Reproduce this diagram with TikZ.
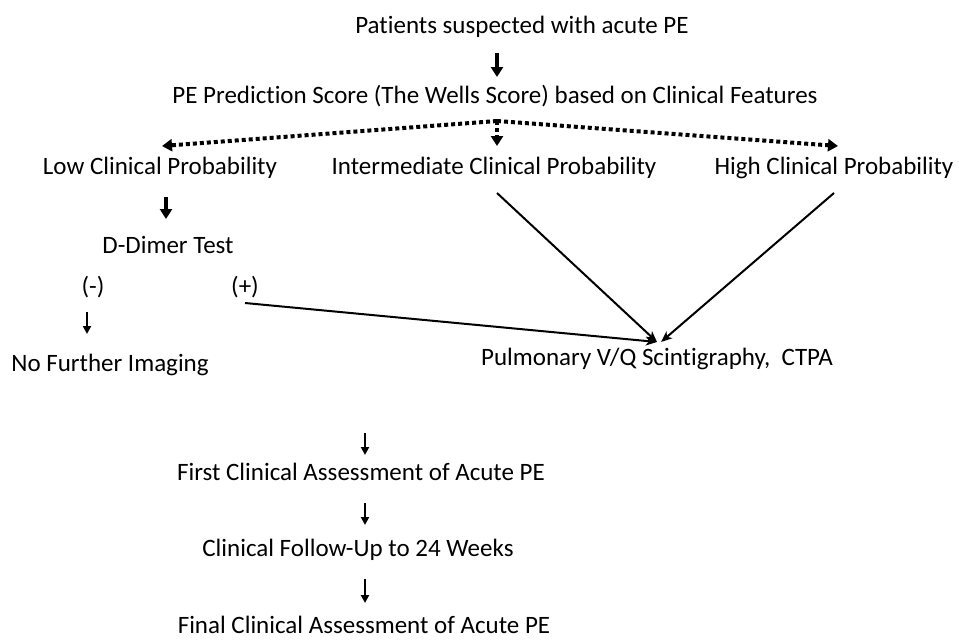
\documentclass[tikz,border=0pt]{standalone}
\usepackage{fontspec}
\setmainfont[Ligatures=NoCommon]{Carlito}
\usetikzlibrary{arrows.meta}
\begin{document}
\begin{tikzpicture}[x=1pt,y=-1pt,
  lbl/.style={anchor=base, inner sep=0pt, font=\fontsize{25}{29}\selectfont},
  bigarrow/.style={line width=3.5pt, -{Triangle[length=10pt,width=12pt]}},
  thinarrow/.style={line width=2pt, -{Triangle[length=8pt,width=8pt]}},
  link/.style={line width=2pt, -{Stealth[length=11pt,width=9pt,inset=3pt]}},
  dots/.style={line width=4pt, dash pattern=on 4pt off 3pt, -{Triangle[length=10pt,width=12pt]}}]
\useasboundingbox (0,0) rectangle (959,640);
% texts
\node[lbl] (title) at (522,33) {Patients suspected with acute PE};
\node[lbl] (pred) at (495,103) {PE Prediction Score (The Wells Score) based on Clinical Features};
\node[lbl] (low) at (160,174) {Low Clinical Probability};
\node[lbl] (mid) at (494,174) {Intermediate Clinical Probability};
\node[lbl] (high) at (834,174) {High Clinical Probability};
\node[lbl] (dd) at (168,253) {D-Dimer Test};
\node[lbl] (neg) at (93,294) {(-)};
\node[lbl] (pos) at (245,294) {(+)};
\node[lbl] (nfi) at (110,371) {No Further Imaging};
\node[lbl] (vq) at (657,365) {Pulmonary V/Q Scintigraphy,\ \ CTPA};
\node[lbl] (first) at (361,480) {First Clinical Assessment of Acute PE};
\node[lbl] (fu) at (358,556) {Clinical Follow-Up to 24 Weeks};
\node[lbl] (final) at (364,633) {Final Clinical Assessment of Acute PE};
% connector end points
\coordinate (a1s) at (497,53);  \coordinate (a1e) at (497,77);
\coordinate (apex) at (497,121);
\coordinate (lowT) at (162,146); \coordinate (highT) at (838,146); \coordinate (midT) at (497,146);
\coordinate (a2s) at (166,197); \coordinate (a2e) at (166,219);
\coordinate (a3s) at (87,312);  \coordinate (a3e) at (87,334);
\coordinate (posS) at (245,303);
\coordinate (midS) at (497,193);
\coordinate (highS) at (834,193);
\coordinate (vqT) at (657,342); \coordinate (vqT2) at (661,342);
\coordinate (a4s) at (365,433); \coordinate (a4e) at (365,455);
\coordinate (a5s) at (365,503); \coordinate (a5e) at (365,525);
\coordinate (a6s) at (365,579); \coordinate (a6e) at (365,603);
% connectors
\draw[bigarrow] (a1s) -- (a1e);
\draw[dots] (apex) -- (lowT);
\draw[dots] (apex) -- (highT);
\draw[dots] (apex) -- (midT);
\draw[bigarrow] (a2s) -- (a2e);
\draw[thinarrow] (a3s) -- (a3e);
\draw[link] (posS) -- (vqT);
\draw[link] (midS) -- (vqT);
\draw[link] (highS) -- (vqT2);
\draw[thinarrow] (a4s) -- (a4e);
\draw[thinarrow] (a5s) -- (a5e);
\draw[thinarrow] (a6s) -- (a6e);
\end{tikzpicture}
\end{document}
